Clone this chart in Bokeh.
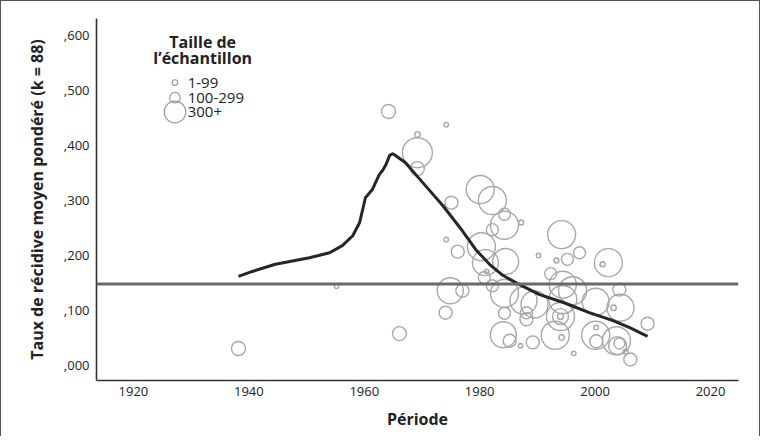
from bokeh.plotting import figure
from bokeh.models import Range1d, CustomJSTickFormatter, FixedTicker, Span
from bokeh.embed import file_html
from bokeh.resources import INLINE
from bokeh.core.properties import value
import numpy as np

# ---------------- data ----------------
curve_year = [1938.2, 1940.6, 1944.6, 1950.5, 1954.0, 1956.2, 1958.0, 1959.2, 1960.2,
              1961.4, 1962.6, 1963.2, 1963.7, 1964.4, 1964.9, 1965.4, 1966.3, 1967.1,
              1970.1, 1973.6, 1977.0, 1979.3, 1981.7, 1984.0, 1986.9, 1990.4, 1994.4,
              1999.0, 2003.0, 2006.0, 2009.1]
curve_rate = [0.162, 0.171, 0.184, 0.196, 0.205, 0.218, 0.236, 0.260, 0.305,
              0.320, 0.347, 0.355, 0.364, 0.382, 0.385, 0.382, 0.375, 0.369,
              0.333, 0.291, 0.245, 0.211, 0.184, 0.164, 0.147, 0.129, 0.115,
              0.096, 0.082, 0.069, 0.053]

study_year = [1938.2, 1955.2, 1966.1, 1964.2, 1974.2, 1969.2, 1969.2, 1969.2, 1980.1, 1982.2,
              1975.1, 1984.3, 1984.3, 1987.2, 1982.2, 1974.2, 1980.3, 1976.2, 1984.5, 1981.0,
              1981.2, 1994.2, 1990.2, 1993.3, 1995.2, 1997.3, 2002.3, 2001.3, 1992.3, 1974.9,
              1977.0, 1980.8, 1982.2, 1984.3, 2004.2, 1974.1, 1984.3, 1987.6, 1989.5, 1988.1,
              1988.1, 1994.4, 1994.4, 1996.1, 2000.1, 1994.0, 1994.0, 1994.0, 2004.4, 2003.2,
              2009.1, 1984.1, 1985.2, 1989.2, 1987.1, 1993.1, 1994.2, 1996.3, 2000.1, 2000.2,
              2000.2, 2003.7, 2003.9, 2004.2, 2005.3, 2006.1]
study_rate = [0.031, 0.144, 0.058, 0.462, 0.438, 0.420, 0.387, 0.358, 0.320, 0.300,
              0.296, 0.275, 0.255, 0.260, 0.247, 0.229, 0.216, 0.207, 0.189, 0.187,
              0.171, 0.238, 0.200, 0.191, 0.193, 0.205, 0.187, 0.184, 0.167, 0.136,
              0.136, 0.160, 0.145, 0.131, 0.138, 0.096, 0.095, 0.118, 0.111, 0.096,
              0.084, 0.147, 0.120, 0.136, 0.116, 0.089, 0.089, 0.089, 0.105, 0.105,
              0.076, 0.056, 0.045, 0.042, 0.036, 0.055, 0.051, 0.022, 0.055, 0.069,
              0.044, 0.045, 0.036, 0.040, 0.025, 0.011]
study_n = [125, 13, 125, 125, 13, 19, 574, 125, 500, 500,
           108, 92, 500, 16, 92, 13, 500, 108, 431, 431,
           13, 500, 13, 16, 92, 92, 500, 16, 92, 431,
           108, 92, 92, 500, 108, 108, 92, 465, 465, 92,
           108, 465, 500, 500, 465, 500, 163, 23, 465, 19,
           108, 431, 108, 108, 13, 500, 19, 13, 500, 13,
           108, 500, 207, 77, 16, 108]

mean_rate = 0.148

x_ticks = [1920, 1940, 1960, 1980, 2000, 2020]
y_ticks = [0.0, 0.1, 0.2, 0.3, 0.4, 0.5, 0.6]

legend_title = ["Taille de", "l\u2019échantillon"]
legend_labels = ["1-99", "100-299", "300+"]
legend_n = [20, 70, 300]


def diam(n):
    return [28.0 * np.sqrt(v / 500.0) for v in n]


# ---------------- figure ----------------
FONT = "Open Sans"
p = figure(width=760, height=436, output_backend="svg", toolbar_location=None,
           x_range=Range1d(1913.6, 2024.85), y_range=Range1d(-0.0273, 0.631),
           min_border_left=95, min_border_right=23, min_border_top=17, min_border_bottom=57)
p.styles = {"border-top": "1.5px solid #555", "border-left": "1.5px solid #555",
            "border-right": "1.5px solid #555", "margin-bottom": "-9px"}
p.outline_line_color = None
p.xgrid.grid_line_color = None
p.ygrid.grid_line_color = None
p.background_fill_color = "white"
p.border_fill_color = "white"

for ax in (p.xaxis[0], p.yaxis[0]):
    ax.axis_line_color = "#333333"
    ax.axis_line_width = 1.6
    ax.major_tick_line_color = None
    ax.minor_tick_line_color = None
    ax.major_tick_out = 0
    ax.major_tick_in = 0
    ax.minor_tick_out = 0
    ax.major_label_text_font = FONT
    ax.major_label_text_font_size = "13px"
    ax.major_label_text_color = "#222222"
    ax.axis_label_text_font = FONT
    ax.axis_label_text_font_style = "bold"
    ax.axis_label_text_color = "#222222"

p.xaxis.ticker = FixedTicker(ticks=x_ticks)
p.yaxis.ticker = FixedTicker(ticks=y_ticks)
p.yaxis.formatter = CustomJSTickFormatter(code="return ',' + tick.toFixed(3).split('.')[1];")
p.xaxis.axis_label = "Période"
p.xaxis.axis_label_text_font_size = "16px"
p.xaxis.major_label_standoff = 6
p.xaxis.axis_label_standoff = 9
p.yaxis.axis_label = "Taux de récidive moyen pondéré (k = 88)"
p.yaxis.axis_label_text_font_size = "16px"
p.yaxis.major_label_standoff = 7
p.yaxis.axis_label_standoff = 13

# bubbles
p.scatter(study_year, study_rate, size=diam(study_n), marker="circle",
          fill_color=None, line_color="#a8a8a8", line_width=1.4)

# mean line
p.add_layout(Span(location=mean_rate, dimension="width", line_color="#6a6a6a", line_width=3))

# smoothed curve
p.line(curve_year, curve_rate, line_color="#262626", line_width=3, line_join="round")

# legend (manual)
lx_circle = 1927.2
lx_text = 1929.4
ly = [0.5145, 0.487, 0.461]
p.scatter([lx_circle] * 3, ly, size=diam(legend_n), marker="circle",
          fill_color=None, line_color="#9a9a9a", line_width=1.2)
p.text([lx_text] * 3, ly, text=legend_labels, text_font=value(FONT), text_font_size="15px",
       text_baseline="middle", text_align="left", text_color="#222222")
p.text([1932.0, 1932.0], [0.589, 0.559], text=legend_title, text_font=value(FONT),
       text_font_size="16px", text_font_style="bold", text_baseline="middle",
       text_align="center", text_color="#222222")

open("out.html", "w").write(file_html(p, INLINE))
